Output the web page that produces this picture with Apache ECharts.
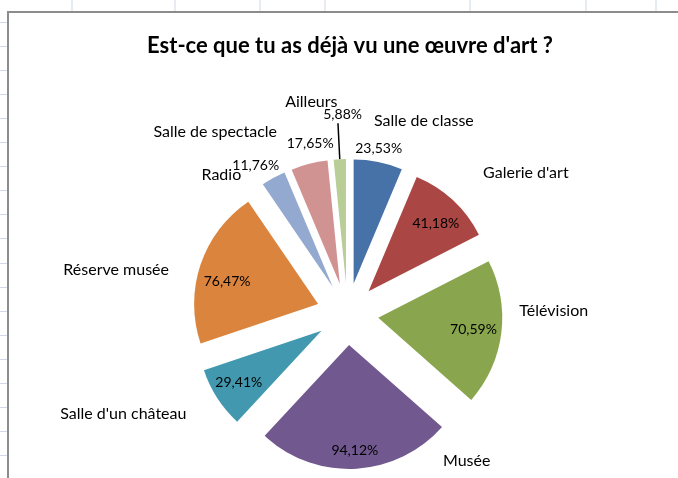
<!DOCTYPE html>
<html>
<head>
<meta charset="utf-8">
<script src="https://cdn.jsdelivr.net/npm/echarts@6/dist/echarts.min.js"></script>
<style>
  html, body { margin: 0; padding: 0; background: #ffffff; }
  #chart { width: 678px; height: 478px; }
</style>
</head>
<body>
<div id="chart"></div>
<script>
// Survey answers: where pupils have already seen a work of art
const categories = [
  'Salle de classe', "Galerie d'art", 'Télévision', 'Musée', "Salle d'un château",
  'Réserve musée', 'Radio', 'Salle de spectacle', 'Ailleurs'
];
const percentages = [23.53, 41.18, 70.59, 94.12, 29.41, 76.47, 11.76, 17.65, 5.88];
const titleText = "Est-ce que tu as déjà vu une œuvre d'art ?";

// Office-style palette, one colour per slice
const sliceColors = ['#4672A8', '#AA4644', '#89A54E', '#71588F', '#4298AF', '#DB843D', '#93A9CF', '#D19392', '#B9CD96'];

// Label nudges (dx, dy) applied after the library's own label placement
const valueNudge = [[6, -41], [2, 3], [0, 0], [1, 10], [-2, 0], [0, 8], [-31, -37], [-6, -47], [24, -9]];
const nameNudge = [[32, 26], [26, 23], [-16, -31], [108, -77], [-36, -22], [-19, 27], [-19, 58], [-77, 35], [-25, 12]];

const PIE_CENTER = [347.5, 314];
const PIE_RADIUS = 124;
const EXPLODE = 31;
const FONT = 'Lato, "Open Sans", sans-serif';

function formatPercent(v) {
  return v.toFixed(2).replace('.', ',') + '%';
}

function pieSeries(extra, itemExtra) {
  return Object.assign({
    type: 'pie',
    center: PIE_CENTER,
    startAngle: 90,
    clockwise: true,
    selectedMode: 'multiple',
    selectedOffset: EXPLODE,
    avoidLabelOverlap: false,
    animation: false,
    emphasis: { disabled: true },
    data: categories.map((name, i) => Object.assign(
      { name: name, value: percentages[i], selected: true },
      itemExtra ? itemExtra(i) : {}
    ))
  }, extra);
}

// Spreadsheet grid showing around the chart frame
const gridLines = [];
[72, 175, 260, 325, 470, 586, 656].forEach(x => {
  gridLines.push({ type: 'line', shape: { x1: x, y1: 0, x2: x, y2: 11 }, style: { stroke: '#D0D7E5', lineWidth: 1 } });
});
for (let y = 22; y < 478; y += 24.05) {
  gridLines.push({ type: 'line', shape: { x1: 0, y1: Math.round(y) + 0.5, x2: 7, y2: Math.round(y) + 0.5 }, style: { stroke: '#D0D7E5', lineWidth: 1 } });
}

const chart = echarts.init(document.getElementById('chart'), null, { renderer: 'canvas' });

chart.setOption({
  backgroundColor: '#ffffff',
  title: {
    text: titleText,
    left: 345,
    textAlign: 'center',
    top: 30,
    textStyle: { fontFamily: FONT, fontSize: 22, fontWeight: 'bold', color: '#000000' }
  },
  graphic: gridLines.concat([
    { type: 'rect', shape: { x: 8, y: 12, width: 700, height: 500 }, style: { fill: null, stroke: '#8C8C8C', lineWidth: 2 }, z: 10 }
  ]),
  series: [
    // Slices
    pieSeries({
      radius: PIE_RADIUS,
      label: { show: false },
      labelLine: { show: false }
    }, i => ({ itemStyle: { color: sliceColors[i] } })),
    // Percentage labels
    pieSeries({
      radius: [PIE_RADIUS / 2, PIE_RADIUS],
      silent: true,
      itemStyle: { color: 'rgba(0,0,0,0)' },
      label: {
        show: true, position: 'inside',
        formatter: p => formatPercent(p.value),
        fontFamily: FONT, fontSize: 14, color: '#000000'
      },
      labelLine: { show: false },
      labelLayout: p => ({ dx: valueNudge[p.dataIndex][0], dy: valueNudge[p.dataIndex][1] })
    }, i => (categories[i] === 'Ailleurs' ? {
      label: { position: 'outside', distanceToLabelLine: 0 },
      labelLine: { show: true, length: 36, length2: 0, lineStyle: { color: '#000000', width: 1.5 } }
    } : {})),
    // Category name labels
    pieSeries({
      radius: [150, 230],
      silent: true,
      itemStyle: { color: 'rgba(0,0,0,0)' },
      label: {
        show: true, position: 'inside',
        formatter: '{b}',
        fontFamily: FONT, fontSize: 16, color: '#000000'
      },
      labelLine: { show: false },
      labelLayout: p => ({ dx: nameNudge[p.dataIndex][0], dy: nameNudge[p.dataIndex][1] })
    })
  ]
});
</script>
</body>
</html>
